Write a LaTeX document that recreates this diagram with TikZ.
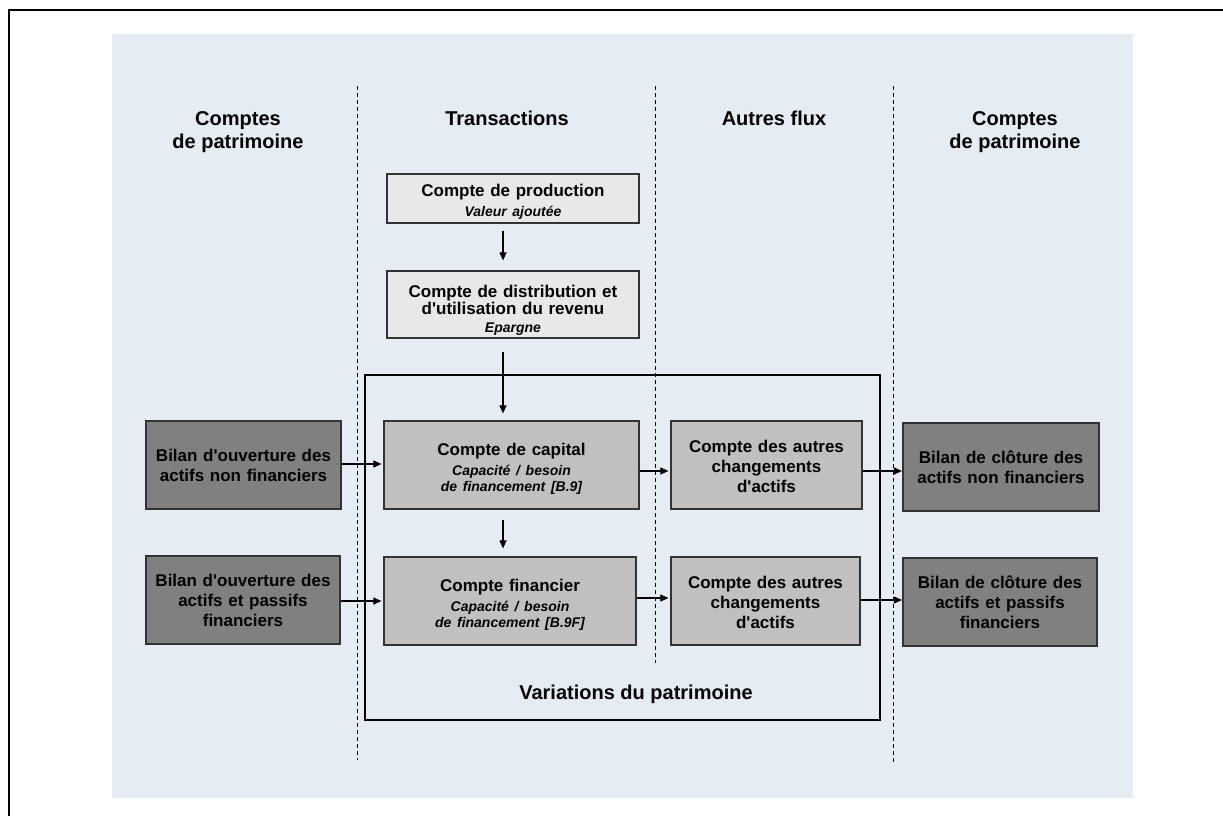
\documentclass[tikz,border=0pt]{standalone}
\usepackage{fontspec}
\setmainfont{Liberation Sans}[Ligatures=TeXOff]
\usetikzlibrary{arrows.meta}
\definecolor{bgblue}{HTML}{E5ECF4}
\definecolor{lightbox}{HTML}{E8E8E8}
\definecolor{midbox}{HTML}{C0C0C0}
\definecolor{darkbox}{HTML}{808080}
\definecolor{boxline}{HTML}{333333}
\newcommand{\itf}{\fontsize{14}{20}\selectfont\itshape}
\newcommand{\tstrut}[1]{\rule{0pt}{#1}}
\begin{document}
\begin{tikzpicture}[x=1pt,y=-1pt,
  box/.style={draw=boxline, line width=1.2pt, align=center, inner sep=0pt,
    text=black, font=\bfseries\fontsize{17}{20}\selectfont},
  lbox/.style={box, fill=lightbox},
  mbox/.style={box, fill=midbox},
  dbox/.style={box, fill=darkbox},
  head/.style={align=center, inner sep=0pt, font=\bfseries\fontsize{20}{23}\selectfont},
  arr/.style={draw=black, line width=1.1pt, -{Triangle[length=8pt,width=7pt]}},
  sep/.style={draw=black, line width=1pt, dash pattern=on 4pt off 3pt},
]
\useasboundingbox (0,0) rectangle (1223,816);
% outer frame (top and left edges)
\draw[line width=2pt] (9,816) -- (9,10) -- (1223,10);
% background
\fill[bgblue] (112,34) rectangle (1133,798);
% column separators
\draw[sep] (357,86) -- (357,760);
\draw[sep] (655,86) -- (655,663);
\draw[sep] (893,86) -- (893,762);
% headers
\node[head] (h1) at (238,132) {Comptes\\de patrimoine};
\node[head, anchor=base] (h2) at (507,125) {Transactions};
\node[head, anchor=base] (h3) at (774,125) {Autres flux};
\node[head] (h4) at (1015,132) {Comptes\\de patrimoine};
% variations frame
\node[draw=black, line width=1.2pt, minimum width=515pt, minimum height=345pt, inner sep=0pt] (var) at (622.5,547.5) {};
\node[head, anchor=base] (varlab) at (636,699) {Variations du patrimoine};
% boxes
\node[lbox, minimum width=252pt, minimum height=49pt, text width=240pt] (prod) at (513,198.5)
  {\tstrut{19.5pt}Compte de production\\\itf Valeur ajoutée};
\node[lbox, minimum width=252pt, minimum height=67pt, text width=240pt] (dist) at (513,304.5)
  {\tstrut{24pt}Compte de distribution et\\[-3pt]d'utilisation du revenu\\[-2pt]\itf Epargne};
\node[mbox, minimum width=255pt, minimum height=88pt, text width=240pt] (cap) at (511.5,465)
  {\tstrut{20.5pt}Compte de capital\\\itf Capacité / besoin\\[-4pt]de financement [B.9]};
\node[mbox, minimum width=252pt, minimum height=88pt, text width=240pt] (fin) at (510,601)
  {\tstrut{20.5pt}Compte financier\\\itf Capacité / besoin\\[-4pt]de financement [B.9F]};
\node[mbox, minimum width=191pt, minimum height=88pt, text width=180pt] (aut1) at (766.5,465)
  {\tstrut{15.5pt}Compte des autres\\changements\\d'actifs};
\node[mbox, minimum width=189pt, minimum height=88pt, text width=180pt] (aut2) at (765.5,601)
  {\tstrut{15.5pt}Compte des autres\\changements\\d'actifs};
\node[dbox, minimum width=195pt, minimum height=88pt, text width=185pt] (ob1) at (243.5,465)
  {Bilan d'ouverture des\\actifs non financiers};
\node[dbox, minimum width=194pt, minimum height=88pt, text width=185pt] (ob2) at (243,600)
  {Bilan d'ouverture des\\actifs et passifs\\financiers};
\node[dbox, minimum width=196pt, minimum height=88pt, text width=185pt] (cb1) at (1001,467)
  {Bilan de clôture des\\actifs non financiers};
\node[dbox, minimum width=194pt, minimum height=88pt, text width=185pt] (cb2) at (1000,602)
  {Bilan de clôture des\\actifs et passifs\\financiers};
% vertical arrows
\coordinate (ax) at (503,0);
\draw[arr, shorten <=7pt, shorten >=10pt] (prod.south -| ax) -- (dist.north -| ax);
\draw[arr, shorten <=13pt, shorten >=7pt] (dist.south -| ax) -- (cap.north -| ax);
\draw[arr, shorten <=10pt, shorten >=8pt] (cap.south -| ax) -- (fin.north -| ax);
% horizontal arrows, row 1
\draw[arr, shorten >=2pt] ([yshift=1pt]ob1.east) -- ([yshift=1pt]ob1.east -| cap.west);
\draw[arr, shorten >=2pt] ([yshift=-6pt]cap.east) -- ([yshift=-6pt]cap.east -| aut1.west);
\draw[arr, shorten >=0.5pt] ([yshift=-6pt]aut1.east) -- ([yshift=-6pt]aut1.east -| cb1.west);
% horizontal arrows, row 2
\draw[arr, shorten >=2pt] ([yshift=-1pt]ob2.east) -- ([yshift=-1pt]ob2.east -| fin.west);
\draw[arr, shorten >=2pt] ([yshift=3pt]fin.east) -- ([yshift=3pt]fin.east -| aut2.west);
\draw[arr, shorten >=0.5pt] ([yshift=1pt]aut2.east) -- ([yshift=1pt]aut2.east -| cb2.west);
\end{tikzpicture}
\end{document}
